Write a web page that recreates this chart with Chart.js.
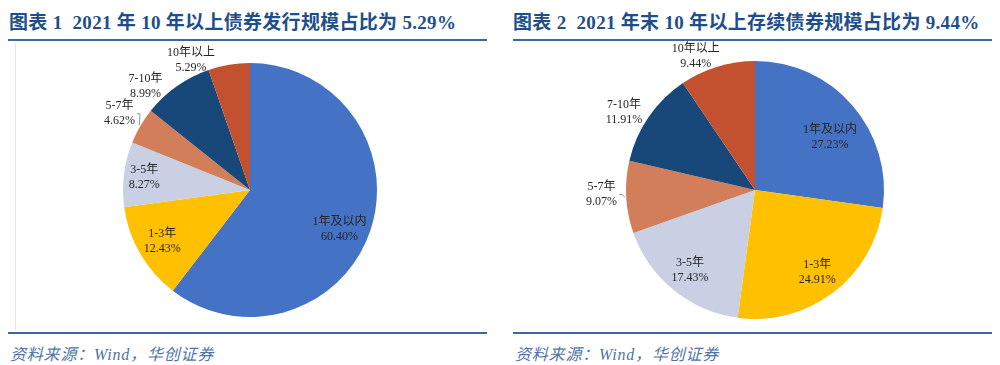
<!DOCTYPE html>
<html>
<head>
<meta charset="utf-8">
<script src="https://cdn.jsdelivr.net/npm/chart.js@4/dist/chart.umd.min.js"></script>
<style>
  html, body { margin: 0; padding: 0; background: #ffffff; }
  body { width: 1000px; height: 365px; position: relative; overflow: hidden; font-family: "Liberation Serif", "Noto Sans CJK SC", serif; }
  .title { position: absolute; top: 7px; font-family: "Liberation Serif", "Noto Sans CJK SC", serif; font-weight: bold; font-size: 19px; color: #1F4E8A; white-space: nowrap; letter-spacing: 0.3px; }
  .rule { position: absolute; height: 2px; background: #3C67A3; }
  .vrule { position: absolute; width: 1px; background: #e6e6e6; }
  .source { position: absolute; top: 341px; font-family: "Liberation Serif", "Noto Sans CJK SC", serif; font-style: italic; font-size: 16px; letter-spacing: 0.8px; color: #4F73A8; white-space: nowrap; }
  canvas { position: absolute; }
</style>
</head>
<body>
<div class="title" style="left:9px;">图表 1&nbsp; 2021 年 10 年以上债券发行规模占比为 5.29%</div>
<div class="title" style="left:513px;">图表 2&nbsp; 2021 年末 10 年以上存续债券规模占比为 9.44%</div>
<div class="rule" style="left:8px; width:479px; top:39px;"></div>
<div class="rule" style="left:513px; width:479px; top:39px;"></div>
<div class="vrule" style="left:15px; top:43px; height:287px;"></div>
<div class="rule" style="left:8px; width:479px; top:332px;"></div>
<div class="rule" style="left:513px; width:479px; top:332px;"></div>
<div class="source" style="left:10px;">资料来源：Wind，华创证券</div>
<div class="source" style="left:515px;">资料来源：Wind，华创证券</div>

<canvas id="c1" width="470" height="320" style="left:15px; top:30px; width:470px; height:320px;"></canvas>
<canvas id="c2" width="470" height="320" style="left:520px; top:30px; width:470px; height:320px;"></canvas>

<script>
// ---- data ----
const categories = ["1年及以内", "1-3年", "3-5年", "5-7年", "7-10年", "10年以上"];
const issuanceShare = [60.40, 12.43, 8.27, 4.62, 8.99, 5.29];   // 图表1
const outstandingShare = [27.23, 24.91, 17.43, 9.07, 11.91, 9.44]; // 图表2

// ---- styles ----
const sliceColors = ["#4472C4", "#FFC000", "#C9D0E4", "#D27E5A", "#18477A", "#C3512F"];

// label placement: radial factor + angular shift (degrees), per slice
const labelStyle1 = [
  { f: 0.77, shift: 5 },
  { f: 0.80, shift: 0 },
  { f: 0.84, shift: 0 },
  { f: 1.19, shift: 0, leader: true },
  { f: 1.16, shift: -10 },
  { f: 1.12, shift: -15 }
];
const labelStyle2 = [
  { f: 0.71, shift: 6 },
  { f: 0.80, shift: 0 },
  { f: 0.80, shift: 0 },
  { f: 1.19, shift: 1.5, leader: true },
  { f: 1.18, shift: -4 },
  { f: 1.13, shift: -7 }
];

const labelPlugin = {
  id: 'sliceLabels',
  afterDatasetsDraw(chart, args, opts) {
    const ctx = chart.ctx;
    const meta = chart.getDatasetMeta(0);
    const vals = chart.data.datasets[0].data;
    const styles = opts.styles;
    ctx.save();
    ctx.font = '12px "Liberation Serif", "Noto Sans CJK SC", serif';
    ctx.fillStyle = '#262626';
    ctx.textAlign = 'center';
    ctx.textBaseline = 'middle';
    meta.data.forEach((arc, i) => {
      const p = arc.getProps(['x', 'y', 'startAngle', 'endAngle', 'outerRadius'], true);
      const s = styles[i];
      const mid = (p.startAngle + p.endAngle) / 2 + s.shift * Math.PI / 180;
      const r = p.outerRadius * s.f;
      const lx = p.x + Math.cos(mid) * r;
      const ly = p.y + Math.sin(mid) * r;
      const l1 = chart.data.labels[i];
      const l2 = vals[i].toFixed(2) + '%';
      ctx.fillText(l1, lx, ly - 7.5);
      ctx.fillText(l2, lx, ly + 7.5);
      if (s.leader) {
        const amid = (p.startAngle + p.endAngle) / 2;
        const ex = p.x + Math.cos(amid) * p.outerRadius * 1.01;
        const ey = p.y + Math.sin(amid) * p.outerRadius * 1.01;
        const w = Math.max(ctx.measureText(l1).width, ctx.measureText(l2).width);
        const sx = lx + w / 2 + 2;
        const sy = ly;
        ctx.strokeStyle = '#7f7f7f';
        ctx.lineWidth = 0.8;
        ctx.beginPath();
        ctx.moveTo(sx, sy);
        ctx.lineTo(sx + 3, sy);
        ctx.lineTo(ex, ey);
        ctx.stroke();
      }
    });
    ctx.restore();
  }
};

function makePie(id, values, styles, pad) {
  return new Chart(document.getElementById(id), {
    type: 'pie',
    data: {
      labels: categories,
      datasets: [{
        data: values,
        backgroundColor: sliceColors,
        borderWidth: 0,
        hoverOffset: 0,
        offset: 0
      }]
    },
    options: {
      responsive: false,
      animation: false,
      layout: { padding: pad },
      plugins: {
        legend: { display: false },
        tooltip: { enabled: false },
        sliceLabels: { styles: styles }
      },
      events: []
    },
    plugins: [labelPlugin]
  });
}

makePie('c1', issuanceShare, labelStyle1, 33);
makePie('c2', outstandingShare, labelStyle2, 31);
</script>
</body>
</html>
